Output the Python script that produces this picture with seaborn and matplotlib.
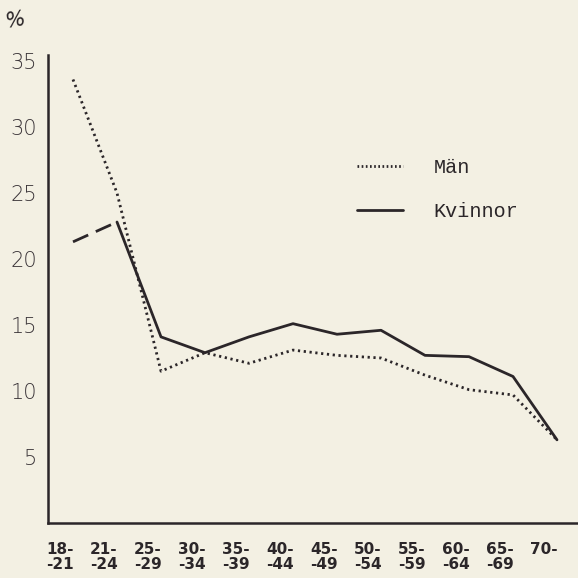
import numpy as np
import pandas as pd
import seaborn as sns
import matplotlib
matplotlib.use("Agg")
import matplotlib.pyplot as plt
from matplotlib.lines import Line2D
from matplotlib.transforms import ScaledTranslation

# ---- data ----
age_groups = ["18-\n-21", "21-\n-24", "25-\n-29", "30-\n-34", "35-\n-39", "40-\n-44",
              "45-\n-49", "50-\n-54", "55-\n-59", "60-\n-64", "65-\n-69", "70-"]
man = [33.6, 25.0, 11.5, 12.9, 12.1, 13.1, 12.7, 12.5, 11.2, 10.1, 9.7, 6.3]
kvinnor = [21.3, 22.8, 14.1, 12.9, 14.1, 15.1, 14.3, 14.6, 12.7, 12.6, 11.1, 6.3]
y_ticks = [5, 10, 15, 20, 25, 30, 35]

df = pd.DataFrame({"pos": np.arange(len(age_groups)), "Män": man, "Kvinnor": kvinnor})

bg = "#f3f0e3"
ink = "#2b2629"

sns.set_theme(style="white")
plt.rcParams["font.family"] = ["DejaVu Sans"]

fig = plt.figure(figsize=(5.78, 5.78), dpi=100, facecolor=bg)
ax = fig.add_axes([48 / 578, 55 / 578, 1 - 48 / 578, (523 - 55) / 578])
ax.set_facecolor(bg)

dot_style = (0, (0.8, 1.3))
sns.lineplot(data=df, x="pos", y="Män", ax=ax, color=ink, lw=2.0, linestyle=dot_style)
sns.lineplot(data=df.iloc[:2], x="pos", y="Kvinnor", ax=ax, color=ink, lw=2.0,
             linestyle=(0, (6, 3)))
sns.lineplot(data=df.iloc[1:], x="pos", y="Kvinnor", ax=ax, color=ink, lw=2.0)

ax.set_xlim(-25 / 44, 11 + 21 / 44)
ax.set_ylim(0, (523 - 55) / 13.2)

for s in ["top", "right"]:
    ax.spines[s].set_visible(False)
for s in ["left", "bottom"]:
    ax.spines[s].set_color(ink)
    ax.spines[s].set_linewidth(1.8)

ax.set_yticks(y_ticks)
ax.set_yticklabels([str(v) for v in y_ticks], fontsize=15, color="#3a3438", fontweight="light")
ax.set_xticks(df["pos"])
ax.set_xticklabels(age_groups, fontsize=11, fontweight="bold", color=ink, linespacing=1.0)
ax.tick_params(axis="both", direction="inout", length=8, width=1.5, color=ink)
ax.tick_params(axis="y", pad=4)
ax.tick_params(axis="x", pad=10)
for lab in ax.get_xticklabels():
    lab.set_transform(lab.get_transform() + ScaledTranslation(-0.13, 0, fig.dpi_scale_trans))
    lab.set_horizontalalignment("center")

ax.set_xlabel("")
ax.set_ylabel("")

fig.text(15 / 578, 1 - 20 / 578, "%", fontsize=15, color=ink, rotation=10,
         ha="center", va="center", fontstyle="italic")

handles = [Line2D([], [], color=ink, lw=2.0, linestyle=(0, (0.6, 0.9))),
           Line2D([], [], color=ink, lw=2.0)]
leg = ax.legend(handles, ["Män", "Kvinnor"], loc="upper left",
                bbox_to_anchor=(357 / 578, 1 - 158 / 578), bbox_transform=fig.transFigure,
                frameon=False, prop={"family": "Liberation Mono", "size": 14.5},
                handlelength=2.3, handletextpad=1.5, labelspacing=1.25,
                borderpad=0, borderaxespad=0)
for t in leg.get_texts():
    t.set_color(ink)

fig.savefig("out.png", dpi=100, facecolor=bg)
